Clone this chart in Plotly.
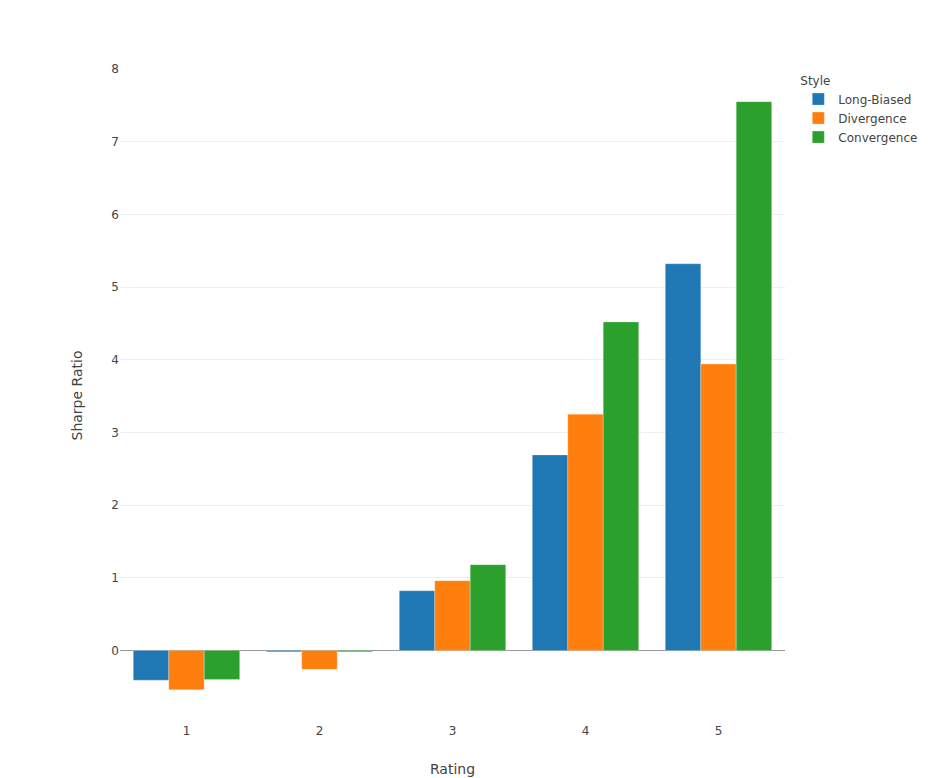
import plotly.graph_objects as go

ratings = ["1", "2", "3", "4", "5"]
long_biased = [-0.41, -0.02, 0.82, 2.69, 5.32]
divergence = [-0.54, -0.26, 0.96, 3.25, 3.94]
convergence = [-0.40, -0.02, 1.18, 4.52, 7.55]
series_names = ["Long-Biased", "Divergence", "Convergence"]
colors = ["#1f77b4", "#ff7f0e", "#2ca02c"]

fig = go.Figure()
for name, vals, col in zip(series_names, [long_biased, divergence, convergence], colors):
    fig.add_trace(go.Bar(name=name, x=ratings, y=vals,
                         marker=dict(color=col, line=dict(color="rgba(255,255,255,0.5)", width=0.5))))

fig.update_layout(
    template="none",
    width=947, height=778,
    barmode="group",
    font=dict(family="DejaVu Sans, Verdana, sans-serif", size=12, color="#444"),
    margin=dict(l=112, r=170, t=61, b=64),
    plot_bgcolor="white", paper_bgcolor="white",
    legend=dict(title=dict(text="Style", font=dict(size=12))),
    xaxis=dict(title=dict(text="Rating", font=dict(size=14)), type="category",
               showgrid=False, zeroline=False, ticks=""),
    yaxis=dict(title=dict(text="Sharpe Ratio", font=dict(size=14)), range=[-0.985, 8],
               gridcolor="#eee", zeroline=True, zerolinecolor="#999", zerolinewidth=1,
               ticks="", dtick=1),
)
fig.write_html("out.html")
